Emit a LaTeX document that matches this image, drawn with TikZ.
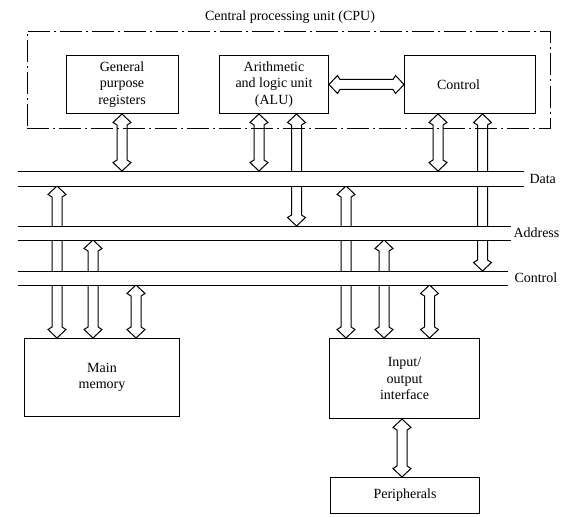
\documentclass[tikz,border=0pt]{standalone}
\usepackage{fontspec}
\setmainfont{Liberation Serif}
\usetikzlibrary{calc}

% Hollow double-headed bus arrows: shaft half-width 5pt, barb half-width 9pt, head length 11pt
\newcommand\vfat[2]{%
  \filldraw[fat] let \p1=#1, \p2=#2 in
    (\x1,\y1) -- (\x1+9pt,\y1-8.5pt) -- (\x1+5pt,\y1-11pt) -- (\x1+5pt,\y2+11pt)
    -- (\x1+9pt,\y2+8.5pt) -- (\x1,\y2) -- (\x1-9pt,\y2+8.5pt) -- (\x1-5pt,\y2+11pt)
    -- (\x1-5pt,\y1-11pt) -- (\x1-9pt,\y1-8.5pt) -- cycle;}
\newcommand\hfat[2]{%
  \filldraw[fat] let \p1=#1, \p2=#2 in
    (\x1,\y1) -- (\x1+8.5pt,\y1+9pt) -- (\x1+11pt,\y1+5pt) -- (\x2-11pt,\y1+5pt)
    -- (\x2-8.5pt,\y1+9pt) -- (\x2,\y1) -- (\x2-8.5pt,\y1-9pt) -- (\x2-11pt,\y1-5pt)
    -- (\x1+11pt,\y1-5pt) -- (\x1+8.5pt,\y1-9pt) -- cycle;}

\begin{document}
\begin{tikzpicture}[x=1pt,y=-1pt,line width=1pt,
  unit/.style={draw,rectangle,inner sep=0pt,align=center,font=\fontsize{14}{16.5}\selectfont},
  txt/.style={inner sep=0pt,align=center,font=\fontsize{14}{16.5}\selectfont},
  busband/.style={rectangle,inner sep=0pt,draw=none},
  fat/.style={draw,fill=white,line join=miter},
  cpuframe/.style={draw,rectangle,inner sep=0pt,dash pattern=on 22pt off 4pt on 2pt off 4pt}]
\useasboundingbox (0,0) rectangle (561,516);

% functional units
\node[unit,minimum width=112pt,minimum height=58pt] (gpr) at (122,84.5) {General\\purpose\\registers};
\node[unit,minimum width=109pt,minimum height=58pt] (alu) at (274,84.5) {Arithmetic\\and logic unit\\(ALU)};
\node[unit,minimum width=131pt,minimum height=58pt] (cu) at (470,84.5) {};
\node[txt] (cutext) at ($(cu.center)+(-11.5,0)$) {Control};
\node[unit,minimum width=155pt,minimum height=78pt] (mem) at (102,377.5) {Main\\memory};
\node[unit,minimum width=150pt,minimum height=80pt] (io) at (404.5,378.5) {Input/\\output\\interface};
\node[unit,minimum width=149pt,minimum height=36pt] (per) at (405,495.5) {Peripherals};

% system buses
\node[busband,minimum width=505pt,minimum height=14pt] (dbus) at (270.5,178.5) {};
\node[busband,minimum width=492pt,minimum height=13pt] (abus) at (264,233) {};
\node[busband,minimum width=489pt,minimum height=13pt] (cbus) at (262.5,278) {};

% arrow columns
\coordinate (kgpr) at (122,0);
\coordinate (kalul) at (259,0);
\coordinate (kalur) at (296.5,0);
\coordinate (kcul) at (438,0);
\coordinate (kcur) at (482.5,0);
\coordinate (km1) at (57,0);
\coordinate (km2) at (93,0);
\coordinate (km3) at (136,0);
\coordinate (kio1) at (346,0);
\coordinate (kio2) at (384,0);
\coordinate (kio3) at (429.5,0);
\coordinate (kper) at (402,0);

% bus connections
\vfat{(gpr.south -| kgpr)}{(dbus.north -| kgpr)}
\vfat{(alu.south -| kalul)}{(dbus.north -| kalul)}
\vfat{(alu.south -| kalur)}{(abus.north -| kalur)}
\vfat{(cu.south -| kcul)}{(dbus.north -| kcul)}
\vfat{(cu.south -| kcur)}{(cbus.north -| kcur)}
\vfat{(dbus.south -| km1)}{(mem.north -| km1)}
\vfat{(abus.south -| km2)}{(mem.north -| km2)}
\vfat{(cbus.south -| km3)}{(mem.north -| km3)}
\vfat{(dbus.south -| kio1)}{(io.north -| kio1)}
\vfat{(abus.south -| kio2)}{(io.north -| kio2)}
\vfat{(cbus.south -| kio3)}{(io.north -| kio3)}
\vfat{(io.south -| kper)}{(per.north -| kper)}
\hfat{(alu.east)}{(cu.west)}

% bus bands drawn over the shafts that pass through them
\foreach \b in {dbus,abus,cbus}{
  \fill[white] (\b.north west) rectangle (\b.south east);
  \draw (\b.north west) -- (\b.north east);
  \draw (\b.south west) -- (\b.south east);
}
\node[txt,anchor=west] (dlabel) at (529,178.5) {Data};
\node[txt,anchor=west] (alabel) at (513,233) {Address};
\node[txt,anchor=west] (clabel) at (514,278) {Control};

% CPU boundary
\node[cpuframe,minimum width=523pt,minimum height=97pt] (cpu) at (288.5,80) {};
\node[txt] (cpulabel) at (290,17.5) {Central processing unit (CPU)};
\end{tikzpicture}
\end{document}
